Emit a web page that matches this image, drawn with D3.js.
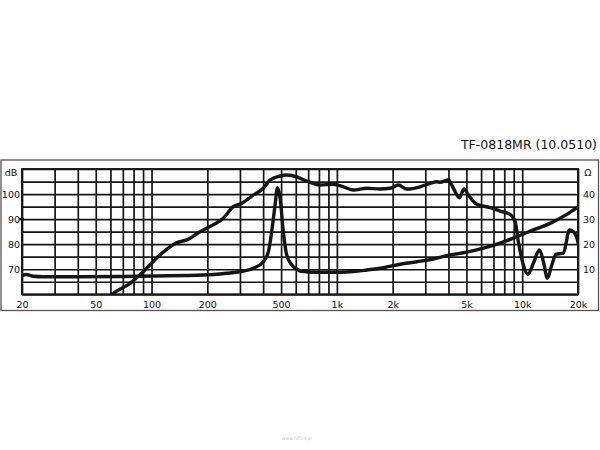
<!DOCTYPE html>
<html><head><meta charset="utf-8">
<script src="https://cdn.jsdelivr.net/npm/d3@7/dist/d3.min.js"></script>
<style>html,body{margin:0;padding:0;background:#fff;}svg{display:block;}</style>
</head><body><svg id="c" width="600" height="450"></svg>
<script>
const title = "TF-0818MR (10.0510)";
const xTickValues = [20,50,100,200,500,1000,2000,5000,10000,20000];
const xTickLabels = ["20","50","100","200","500","1k","2k","5k","10k","20k"];
const xGrid = [20,30,40,50,60,70,80,90,100,200,300,400,500,600,700,800,900,1000,2000,3000,4000,5000,6000,7000,8000,9000,10000,20000];
const dbTicks = [70,80,90,100];
const ohmTicks = [10,20,30,40];
const dbGrid = [60,65,70,75,80,85,90,95,100,105,110];

// SPL response [Hz, dB]
const splFreq = [60,62,76.5,90,111,137,155,183,215,244,276,307,354,401,436,494,536,608,633,717,811,957,1084,1227,1450,1710,1936,2148,2382,2812,3184,3458,3606,3998,4254,4582,4856,5126,5688,6712,7603,8606,9155,9533,10146,10716,11488,12388,13012,13680,14442,15236,16688,17990,18892,19860,20000];
const splDb   = [59.5,60.3,64.4,69.0,75.7,80.6,81.7,85.0,87.7,90.3,95.0,96.3,99.6,102.3,105.6,107.2,107.6,106.9,106.3,104.7,103.6,103.9,102.9,101.6,102.3,102.0,102.3,103.6,102.0,102.9,104.3,104.9,104.7,105.6,102.3,98.5,102.0,99.6,95.9,94.6,93.2,91.9,89.0,81.0,71.7,68.0,72.4,77.7,73.0,66.4,71.7,76.0,76.4,85.7,85.0,81.7,80.5];

// Impedance [Hz, ohm]
const impFreq = [20,21,23,26,40,70,102,190,254,300,354,401,427,445,464,478,494,514,536,571,620,633,779,957,1178,1450,1782,2192,2698,3318,4082,5024,6180,7603,9354,11488,14138,17414,19860,20000];
const impOhm  = [7.5,7.9,7.2,7.0,7.0,7.1,7.3,7.7,8.4,9.0,10.4,13.0,17.0,25.0,35.6,42.5,38.3,25.0,15.7,11.7,9.7,9.3,8.8,8.8,9.0,9.7,10.6,12.0,13.0,14.1,15.7,16.8,18.4,20.4,23.0,25.7,28.3,31.9,34.6,34.7];

const svg = d3.select("#c");
const L = 22, R = 578, T = 169, B = 294.3;
const x = d3.scaleLog().domain([20,20000]).range([L,R]);
const yDb = d3.scaleLinear().domain([60,110]).range([B,T]);
const yOhm = d3.scaleLinear().domain([0,50]).range([B,T]);
const font = "DejaVu Sans, Verdana, sans-serif";
const ink = "#151515";
const txt = "#111";

// outer frame
svg.append("rect").attr("x",1).attr("y",160).attr("width",597.5).attr("height",150.5)
  .attr("fill","none").attr("stroke","#555").attr("stroke-width",1.3);

// title
svg.append("text").attr("x",597).attr("y",148.5).attr("text-anchor","end")
  .attr("font-family",font).attr("font-size",12.5).attr("fill",txt).text(title);

// grid via axes
const gx = svg.append("g").attr("transform",`translate(0,${B})`)
  .call(d3.axisBottom(x).tickValues(xGrid).tickSize(-(B-T)).tickFormat(""));
const gy = svg.append("g").attr("transform",`translate(${L},0)`)
  .call(d3.axisLeft(yDb).tickValues(dbGrid).tickSize(-(R-L)).tickFormat(""));
[gx,gy].forEach(g=>{
  g.select(".domain").remove();
  g.selectAll(".tick line").attr("stroke",ink).attr("stroke-width",1.7);
});
svg.append("rect").attr("x",L).attr("y",T).attr("width",R-L).attr("height",B-T)
  .attr("fill","none").attr("stroke",ink).attr("stroke-width",1.9);

// tick labels
const lab = svg.append("g").attr("transform",`translate(0,${B})`)
  .call(d3.axisBottom(x).tickValues(xTickValues).tickSize(0).tickPadding(7)
    .tickFormat((d,i)=>xTickLabels[i]));
const labL = svg.append("g").attr("transform",`translate(${L},0)`)
  .call(d3.axisLeft(yDb).tickValues(dbTicks).tickSize(0).tickPadding(2));
const labR = svg.append("g").attr("transform",`translate(${R},0)`)
  .call(d3.axisRight(yOhm).tickValues(ohmTicks).tickSize(0).tickPadding(5));
[lab,labL,labR].forEach(g=>{
  g.select(".domain").remove();
  g.selectAll("text").attr("font-family",font).attr("font-size",9.5).attr("fill",txt);
});
svg.append("text").attr("x",11).attr("y",175.5).attr("text-anchor","middle")
  .attr("font-family",font).attr("font-size",9.5).attr("fill",txt).text("dB");
svg.append("text").attr("x",588).attr("y",176).attr("text-anchor","middle")
  .attr("font-family",font).attr("font-size",9.5).attr("fill",txt).text("Ω");
// small marker at 90 dB on left
svg.append("line").attr("x1",L-3).attr("x2",L+2).attr("y1",yDb(90)).attr("y2",yDb(90))
  .attr("stroke",ink).attr("stroke-width",2.5);

// curves
svg.append("clipPath").attr("id","pc").append("rect")
  .attr("x",L).attr("y",T).attr("width",R-L).attr("height",B-T);
const cg = svg.append("g").attr("clip-path","url(#pc)");
const lineDb = d3.line().x((d,i)=>x(splFreq[i])).y(d=>yDb(d)).curve(d3.curveMonotoneX);
const lineOhm = d3.line().x((d,i)=>x(impFreq[i])).y(d=>yOhm(d)).curve(d3.curveMonotoneX);
cg.append("path").attr("d",lineOhm(impOhm)).attr("fill","none").attr("stroke",ink)
  .attr("stroke-width",3.4).attr("stroke-linejoin","round").attr("stroke-linecap","round");
cg.append("path").attr("d",lineDb(splDb)).attr("fill","none").attr("stroke",ink)
  .attr("stroke-width",3.4).attr("stroke-linejoin","round").attr("stroke-linecap","round");

// watermark
svg.append("text").attr("x",297).attr("y",440).attr("text-anchor","middle")
  .attr("font-family",font).attr("font-size",4.5).attr("fill","#c8c8c8").text("www.hifi24.pl");
</script></body></html>
